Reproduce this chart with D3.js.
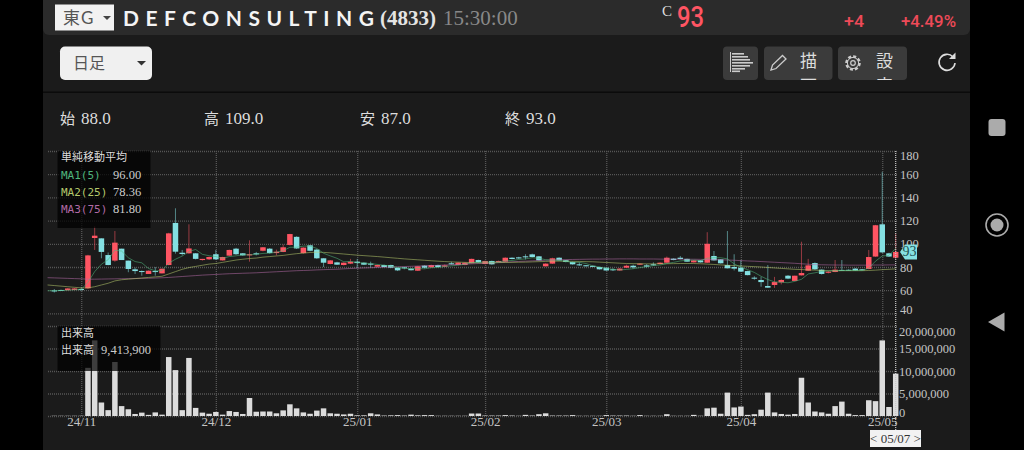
<!DOCTYPE html>
<html>
<head>
<meta charset="utf-8">
<script src="https://cdn.jsdelivr.net/npm/d3@7"></script>
<style>
  html, body { margin: 0; padding: 0; background: #000; overflow: hidden; }
  svg { display: block; }
  text { font-family: "Liberation Serif", serif; }
  .cjk { font-family: "Noto Sans CJK JP", sans-serif; }
  .grid line { stroke: #565656; stroke-width: 1.3; stroke-dasharray: 1 1; }
  .grid path { display: none; }
</style>
</head>
<body>
<script>
//Values, one entry per trading day

const opens = [
  59.8,60.2,60,60.2,61,61.6,105,104.7,90.3,85.5,
  95.8,85.5,78,76.5,74,76.5,74.5,81.7,118,92.3,
  91.8,91.8,86,86.6,91,85.7,89.8,95.8,91.8,90,
  91.8,94,95.8,92,93,99,106,92,98.7,95,
  87.5,82.6,84,81.7,82.9,84.6,83.7,82.9,80.3,81.7,
  81.7,79.4,79.7,78.6,76.8,81.2,79.7,81.7,80.3,83.2,
  81.7,81.7,83.2,86,82.6,85.2,84.3,84.6,88,88.3,
  89.2,90.9,89.2,80.6,82.9,88,85.8,84.3,82.3,81.5,
  81,80,79.4,78,77,79.4,81.1,82,81.4,82.3,
  82.6,83.7,87.2,88,87,84,85.7,83.7,89.5,86.6,
  81.7,80,79.4,76.5,70.8,68.8,63.6,64.5,66.8,72.5,
  68,72.8,76.8,83.4,77.7,75,75.7,77.5,77.6,78.6,
  78,78.3,89,116.8,91.8,88
];
const highs = [
  61,60.5,61.8,61.8,62.5,90.5,115,104.7,92.5,111,
  95.8,85.5,79.5,77,77,80,78.8,109.5,130.6,94.7,
  116.8,92,87,89,94.7,88.8,95,96.5,92,103,
  93,97.2,96.3,95,99.5,108.6,106.5,97,99,95.5,
  87.5,86,84.5,84,87,87,84,84.6,82,82,
  82,79.6,80,79,81,81.5,82,82,82.2,84.5,
  84,84,87.2,86.3,85.5,85.5,85.5,88.3,88.3,88.8,
  91,91.5,89.5,83.2,88,88.3,86,84.7,84,81.7,
  81.2,80.2,79.6,79,79,82,82,83.2,82.5,84,
  84,89,87.5,89.5,87.2,86,86,110,93.8,86.8,
  111,91,86,76.8,72,71.5,81.7,71.5,69.5,73,
  72.5,101.8,87,84,78,76.5,86,86,78,79,
  78.2,94.7,116.3,162,92.3,109
];
const lows = [
  58,59.5,60,60,59.5,61.3,94.7,87.5,81.5,84.5,
  86,75.5,74,72.5,74,72.5,74.5,81.5,91.5,90,
  91.5,86.5,85.5,86,86.2,85.5,89.5,90.5,89.7,84.6,
  90,93.5,91.5,90,92.8,98.5,95.5,91.5,93.5,87,
  80,82.3,81.7,81.3,82.5,79,81.7,79.4,80,79.8,
  79,76.5,78,77,76.5,78.8,79.5,79.7,80,82,
  81.5,81.5,83,83.7,82.3,82,84,84.3,86.6,87,
  86.5,88.3,85.5,80.3,82.7,85.5,84,82,81,80.5,
  80,77.8,76.8,76.5,76.8,79.2,78.5,81.8,79.5,81,
  82.3,83.5,85.8,86.5,84.5,83.8,83.8,83.5,85.5,83,
  78.7,77,75.8,72.8,69,63,62,62,65,69.5,
  67.8,72.6,76.5,77.5,73.5,74.5,75.5,76.5,76.8,76.5,
  77,78,88.8,92,88.7,87
];
const closes = [
  59.3,59.8,61.5,61.5,60.5,90,107,93,81.7,101,
  86,78.3,76.5,76,76.8,76,78.5,109,93.2,91.2,
  96,87,87,88.6,86.6,88.6,94.7,91,90,91,
  90.9,97,92,93.2,97,108.4,96,96.7,94,87.5,
  83.7,85.7,82,83.7,84.6,83.4,82,82,81.7,80,
  79.4,77.1,79.2,77.2,80.6,79.4,81.7,80,81.4,82.3,
  83.8,83.7,87,84,85.2,82.3,85.2,88,86.9,87.4,
  88.4,88.6,85.7,82.9,87.5,85.7,84.3,82.3,81.5,80.6,
  80.1,78,77,77.4,78.6,81.1,79.7,82.9,80.3,81.7,
  83.7,88,86,86.9,84.6,85.7,84,100,85.7,83.2,
  78.9,78.6,76,73,70.2,67,62.2,67,68.8,70,
  72.5,74.8,81.4,78,74,76,77.7,76.8,77,76.8,
  77.4,88.6,116,92.6,89,93
];
// millions of shares
const volumes = [
  0.05,0.05,0.05,0.05,0.05,10.7,16.8,3,1.3,12,
  2.2,1.5,0.45,0.75,0.25,0.8,0.3,13.1,10.2,1.3,
  12.9,1.8,0.75,0.5,0.9,0.3,1.1,0.9,0.45,4,
  0.95,1,1,0.6,1.25,2.6,1.7,0.8,0.5,1.2,
  1.7,0.6,0.5,0.35,0.5,0.15,0.15,0.6,0.35,0.1,
  0.15,0.2,0.1,0.3,0.15,0.2,0.2,0.05,0.05,0.05,
  0.05,0.05,0.55,0.55,0.1,0.1,0.1,0.2,0.1,0.05,
  0.25,0.1,0.4,0.6,0.1,0.1,0.1,0.2,0.05,0.05,
  0.05,0.05,0.2,0.1,0.1,0.1,0.05,0.2,0.05,0.05,
  0.05,0.4,0.05,0.05,0.05,0.25,0.05,1.7,1.85,0.5,
  5.2,1.9,2.1,0.25,0.4,1.4,5.2,0.8,0.45,0.3,
  0.45,8.5,3,1,0.8,0.5,2.2,3.2,0.5,0.2,
  0.2,3.5,3.3,16.8,2,9.41
];

//The moving averages start one day before the first candle, at the left edge of the chart

const ma1 = [
  59.5,59.6,59.7,60,60.4,60.5,66.8,76,82.4,86.3,
  94.5,93.7,88,84.7,83.6,78.7,76.7,76.8,83.3,86.7,
  89.4,93.4,95.1,90.9,89.7,89,87.4,89,89.6,90.6,
  90.5,91,91.7,92,92.7,94,97,97,98,98,
  96,91.8,89.6,87.5,84.5,84.8,83.8,83.4,82.9,82.2,
  81.5,80.8,79.5,79,78.4,78.6,78.4,79.4,79.6,80.5,
  81,81.6,82.3,83.7,84,84.5,84.2,84.4,85.3,85.6,
  86.5,87,88,87.5,86.3,86,85.7,84.8,84,84,
  83,81,80,78.8,78,77.5,77.9,78.5,79.5,80.3,
  81.2,81.7,83,84,85.2,85.8,85.9,85.5,87.6,88,
  88,87,82.7,79.9,77.7,75.3,72,69.2,67.2,66.9,
  66.4,67.6,69.4,74,75,76.2,76.7,76.7,77,77,
  77,77,79,85,89.5,90,96
];
const ma2 = [
  64.5,64,63.5,63,62.5,62,62,63,64.5,66,
  68,69,69.5,70,70.5,71,71.5,72,74,76,
  78,79.5,80.5,81.5,82.5,83,84,85,86,86.7,
  87.3,87.7,88.5,89,89.5,90,90.8,91.5,92,92.5,
  92.8,92.6,92.2,91.7,91.2,90.7,90.2,89.8,89.4,89,
  88.5,88,87.5,87,86.6,86.2,85.8,85.4,85,84.7,
  84.4,84.2,84,83.8,83.6,83.5,83.6,83.8,83.9,84,
  84.1,84.2,84.4,84.6,84.8,85,85,85,84.9,84.8,
  84.6,84.5,84.2,83.9,83.6,83.3,83,82.9,82.8,82.7,
  82.7,82.7,82.8,82.9,83,83,83,82.8,82.5,82.2,
  81.8,81.5,81.2,80.9,80.6,80.3,80,79.6,79.2,78.8,
  78.4,78,77.8,77.5,77.3,77,76.8,76.8,76.8,76.8,
  76.8,76.8,77,77.3,77.7,78,78.36
];
const ma3 = [
  70.8,70.6,70.4,70.2,70,69.8,69.5,69.5,69.6,69.7,
  69.8,69.9,70,70.1,70.2,70.3,70.5,70.7,71,71.4,
  71.8,72.2,72.6,73,73.3,73.6,73.9,74.2,74.4,74.6,
  74.8,75,75.3,75.6,75.9,76.2,76.5,76.8,77,77.2,
  77.5,77.7,77.9,78.1,78.4,78.7,79,79.2,79.4,79.6,
  79.8,80,80.2,80.4,80.6,80.8,81,81.2,81.4,81.7,
  82,82.2,82.5,82.7,83,83.2,83.5,83.8,84.2,84.5,
  84.8,85,85.3,85.5,85.8,86,86.3,86.4,86.5,86.6,
  86.7,86.8,86.8,86.9,86.9,87,87,87,86.9,86.9,
  86.9,86.8,86.8,86.8,86.7,86.7,86.7,86.6,86.5,86.3,
  86.2,86,85.8,85.5,85.2,85,84.7,84.4,84.1,83.8,
  83.5,83.2,82.8,82.4,82,81.9,81.8,81.7,81.7,81.6,
  81.6,81.6,81.6,81.7,81.7,81.8,81.8
];

//Axis ticks

const priceTicks = [180,160,140,120,100,80,60,40];
const volumeTicks = [20,15,10,5,0];
const monthPositions = [4,24,45,64,82,102,123];
const monthLabels = ["24/11","24/12","25/01","25/02","25/03","25/04","25/05"];

//Texts

const ohlcLabels = ["始","高","安","終"];
const ohlcValues = ["88.0","109.0","87.0","93.0"];
const maNames = ["MA1(5)","MA2(25)","MA3(75)"];
const maLast = ["96.00","78.36","81.80"];
const maColors = ["#4fb67c","#b4c86c","#b26aa6"];

const upColor = "#ff5563";
const downColor = "#84e0e2";

const svg = d3.select("body").append("svg").attr("width", 1024).attr("height", 450);

//Scales

const x = d3.scaleLinear().domain([0, 125]).range([54.3, 895.7]);
const yPrice = d3.scaleLinear().domain([40, 180]).range([313.4, 151]);
const yVol = d3.scaleLinear().domain([0, 20]).range([416, 326]);
const bodyWidth = 5.5;
const plotLeft = 48;
const plotRight = 897;

//Page background, header and toolbar

svg.append("rect").attr("x", 43).attr("y", 0).attr("width", 927).attr("height", 450).attr("fill", "#1b1b1b");
svg.append("rect").attr("x", 43).attr("y", -10).attr("width", 927).attr("height", 45).attr("rx", 6).attr("fill", "#2b2b2b");
svg.append("rect").attr("x", 43).attr("y", 91.5).attr("width", 927).attr("height", 1.5).attr("fill", "#0b0b0b");

const header = svg.append("g");
header.append("rect").attr("x", 55).attr("y", 4.5).attr("width", 59).attr("height", 26).attr("fill", "#f2f2f2");
header.append("text").attr("class", "cjk").attr("x", 63).attr("y", 24).attr("font-size", 17).attr("fill", "#555").text("東");
header.append("text").attr("x", 81).attr("y", 24).attr("font-size", 17).attr("fill", "#555").style("font-family", "Lato").text("G");
header.append("path").attr("d", "M103,16h8l-4,4z").attr("fill", "#444");
header.append("text").attr("x", 123).attr("y", 25.5).attr("font-size", 21).attr("font-weight", 700).attr("fill", "#f4f4f4")
  .style("font-family", "Lato").attr("letter-spacing", "6.5px").text("DEFCONSULTING");
header.append("text").attr("x", 380).attr("y", 25).attr("font-size", 21).attr("font-weight", 700).attr("fill", "#e4e4e4").text("(4833)");
header.append("text").attr("x", 443).attr("y", 25).attr("font-size", 21).attr("fill", "#888").text("15:30:00");
header.append("text").attr("x", 662).attr("y", 16).attr("font-size", 15).attr("fill", "#ddd").text("C");
header.append("text").attr("x", 677).attr("y", 26.5).attr("font-size", 30).attr("font-weight", 500).attr("fill", upColor)
  .attr("textLength", 27).attr("lengthAdjust", "spacingAndGlyphs").style("font-family", "Roboto").text("93");
header.append("text").attr("x", 844).attr("y", 26.5).attr("font-size", 17).attr("font-weight", 500).attr("fill", "#ee4a58")
  .attr("textLength", 20).attr("lengthAdjust", "spacingAndGlyphs").style("font-family", "Roboto").text("+4");
header.append("text").attr("x", 901).attr("y", 26.5).attr("font-size", 17).attr("font-weight", 500).attr("fill", "#ee4a58")
  .attr("textLength", 55).attr("lengthAdjust", "spacingAndGlyphs").style("font-family", "Roboto").text("+4.49%");

//Toolbar buttons. The second line of the two labels is cut off by the button, as in the app

const toolbar = svg.append("g");
toolbar.append("rect").attr("x", 60).attr("y", 46.5).attr("width", 92).attr("height", 33.5).attr("rx", 5).attr("fill", "#f0f0f0");
toolbar.append("text").attr("class", "cjk").attr("x", 73).attr("y", 69).attr("font-size", 16).attr("fill", "#555").text("日足");
toolbar.append("path").attr("d", "M137,61h9l-4.5,4.5z").attr("fill", "#333");

const buttons = [[723,35],[764,68.5],[838,69]];
toolbar.selectAll("rect.btn").data(buttons).enter().append("rect").attr("class", "btn")
  .attr("x", d => d[0]).attr("y", 46.5).attr("width", d => d[1]).attr("height", 33.5).attr("rx", 4).attr("fill", "#3b3b3b");

svg.append("clipPath").attr("id", "btnClip").append("rect").attr("x", 723).attr("y", 46.5).attr("width", 184).attr("height", 33.5);
const btnText = toolbar.append("g").attr("clip-path", "url(#btnClip)");
[["描","画",808.5],["設","定",884.5]].forEach(function(b){
  btnText.append("text").attr("class", "cjk").attr("x", b[2]).attr("y", 66.5).attr("font-size", 17).attr("fill", "#ddd").attr("text-anchor", "middle").text(b[0]);
  btnText.append("text").attr("class", "cjk").attr("x", b[2]).attr("y", 92).attr("font-size", 17).attr("fill", "#ddd").attr("text-anchor", "middle").text(b[1]);
});

//Toolbar icons

toolbar.append("path").attr("d", "M730.5,52v20").attr("stroke", "#ccc").attr("stroke-width", 1);
[[54,12],[57,16],[60,18],[63,21],[66,18],[69,13],[71.5,8]].forEach(function(b){
  toolbar.append("rect").attr("x", 732).attr("y", b[0] - 1).attr("width", b[1]).attr("height", 1.6).attr("fill", "#ccc");
});
toolbar.append("path").attr("d", "M771,70l1.5,-5l10,-9.5l3.5,3.5l-10,9.5z").attr("fill", "none").attr("stroke", "#ccc").attr("stroke-width", 1.3);
toolbar.append("circle").attr("cx", 853).attr("cy", 63).attr("r", 6.5).attr("fill", "none").attr("stroke", "#ccc").attr("stroke-width", 2.6).attr("stroke-dasharray", "3 2");
toolbar.append("circle").attr("cx", 853).attr("cy", 63).attr("r", 5.6).attr("fill", "none").attr("stroke", "#ccc").attr("stroke-width", 1);
toolbar.append("circle").attr("cx", 853).attr("cy", 63).attr("r", 2.3).attr("fill", "none").attr("stroke", "#ccc").attr("stroke-width", 1.2);
toolbar.append("path").attr("d", "M953,57a8,8 0 1,0 2,6").attr("fill", "none").attr("stroke", "#ddd").attr("stroke-width", 1.6);
toolbar.append("path").attr("d", "M955.5,52.5v6.5h-6.5z").attr("fill", "#ddd");

//Open, high, low and close line

const ohlcX = [60,204,360,505];
ohlcLabels.forEach(function(label, i){
  svg.append("text").attr("class", "cjk").attr("x", ohlcX[i]).attr("y", 124).attr("font-size", 15).attr("fill", "#ddd").text(label);
  svg.append("text").attr("x", ohlcX[i] + 21).attr("y", 123.5).attr("font-size", 17).attr("fill", "#ddd").text(ohlcValues[i]);
});

//Grid, built from the axes with a negative tick size. The month lines run through both panes

svg.append("g").attr("class", "grid").attr("transform", "translate(" + plotRight + ",0)")
  .call(d3.axisRight(yPrice).tickValues(priceTicks).tickSize(plotLeft - plotRight).tickFormat(""));
svg.append("g").attr("class", "grid").attr("transform", "translate(" + plotRight + ",0)")
  .call(d3.axisRight(yVol).tickValues(volumeTicks).tickSize(plotLeft - plotRight).tickFormat(""));
svg.append("g").attr("class", "grid").attr("transform", "translate(0,416)")
  .call(d3.axisBottom(x).tickValues(monthPositions).tickSize(-265).tickFormat(""));

//Volume bars

svg.append("g").selectAll("rect")
  .data(volumes)
  .enter()
  .append("rect")
  .attr("x", (d, i) => x(i) - bodyWidth / 2)
  .attr("y", d => yVol(d))
  .attr("width", bodyWidth)
  .attr("height", d => yVol(0) - yVol(d))
  .attr("fill", "#dcdcdc");

//Candles

const candle = svg.append("g").selectAll("g")
  .data(opens)
  .enter()
  .append("g")
  .attr("fill", (d, i) => closes[i] >= d ? upColor : downColor)
  .attr("stroke", (d, i) => closes[i] >= d ? upColor : downColor);

candle.append("line")
  .attr("x1", (d, i) => x(i))
  .attr("x2", (d, i) => x(i))
  .attr("y1", (d, i) => yPrice(highs[i]))
  .attr("y2", (d, i) => yPrice(lows[i]))
  .attr("stroke-width", 1)
  .attr("stroke-opacity", 0.55);

candle.append("rect")
  .attr("x", (d, i) => x(i) - bodyWidth / 2)
  .attr("y", (d, i) => yPrice(Math.max(d, closes[i])))
  .attr("width", bodyWidth)
  .attr("height", (d, i) => Math.max(1, Math.abs(yPrice(d) - yPrice(closes[i]))))
  .attr("stroke", "none");

//Moving averages

const maLine = d3.line().x((d, i) => x(i - 1)).y(d => yPrice(d));
[ma3, ma2, ma1].forEach(function(series, i){
  svg.append("path")
    .attr("d", maLine(series))
    .attr("fill", "none")
    .attr("stroke", maColors[2 - i])
    .attr("stroke-width", 1)
    .attr("stroke-opacity", 0.55);
});

//Crosshair on the selected day

svg.append("line").attr("x1", x(125)).attr("x2", x(125)).attr("y1", 151).attr("y2", 430)
  .attr("stroke", "#c8c8c8").attr("stroke-dasharray", "1 1").attr("stroke-width", 1.2);

//Price axis. The top and bottom labels are kept inside their pane

const priceAxis = svg.append("g").attr("transform", "translate(900,0)")
  .call(d3.axisRight(yPrice).tickValues(priceTicks).tickSize(0).tickPadding(0));
const volumeAxis = svg.append("g").attr("transform", "translate(899,0)")
  .call(d3.axisRight(yVol).tickValues(volumeTicks).tickSize(0).tickPadding(0).tickFormat(d => d3.format(",")(d * 1000000)));

[priceAxis, volumeAxis].forEach(function(axis){
  axis.select(".domain").remove();
  axis.selectAll("text").style("font-family", "Liberation Serif").attr("font-size", 12.5).attr("fill", "#c4c4c4");
});
priceAxis.selectAll("text").attr("dy", d => d === 180 ? "0.71em" : d === 40 ? "0" : "0.32em");
volumeAxis.selectAll("text").attr("dy", d => d === 20 ? "0.74em" : d === 0 ? "0" : "0.32em");

//Date axis

const dateAxis = svg.append("g").attr("transform", "translate(0,417)")
  .call(d3.axisBottom(x).tickValues(monthPositions).tickSize(0).tickPadding(0)
    .tickFormat((d, i) => monthLabels[i]));
dateAxis.select(".domain").remove();
dateAxis.selectAll("text").style("font-family", "Liberation Serif").attr("font-size", 13).attr("fill", "#c4c4c4");

//Current price marker

svg.append("path").attr("d", "M900," + yPrice(93) + "l5,-7.5h12v15h-12z").attr("fill", downColor);
svg.append("text").attr("x", 909.5).attr("y", yPrice(93) + 4.5).attr("font-size", 14).attr("text-anchor", "middle").attr("fill", "#1d5052").text("93");

//Selected date box

svg.append("rect").attr("x", 870).attr("y", 430).attr("width", 51).attr("height", 17).attr("fill", "#f2f2f2");
svg.append("text").attr("x", 895.5).attr("y", 443).attr("font-size", 13).attr("text-anchor", "middle").attr("fill", "#333").text("< 05/07 >");

//Legends

svg.append("rect").attr("x", 57.5).attr("y", 151).attr("width", 93).attr("height", 77).attr("fill", "#000").attr("fill-opacity", 0.72);
svg.append("text").attr("class", "cjk").attr("x", 61).attr("y", 161).attr("font-size", 11).attr("fill", "#ddd").text("単純移動平均");
maNames.forEach(function(name, i){
  svg.append("text").attr("x", 61).attr("y", 179 + i * 17).attr("font-size", 11).attr("fill", maColors[i])
    .style("font-family", "DejaVu Sans Mono").text(name);
  svg.append("text").attr("x", 113).attr("y", 179 + i * 17).attr("font-size", 12.5).attr("fill", "#ccc").text(maLast[i]);
});

svg.append("rect").attr("x", 57.5).attr("y", 326).attr("width", 103).attr("height", 45).attr("fill", "#000").attr("fill-opacity", 0.72);
svg.append("text").attr("class", "cjk").attr("x", 61).attr("y", 337).attr("font-size", 11).attr("fill", "#ddd").text("出来高");
svg.append("text").attr("class", "cjk").attr("x", 61).attr("y", 354).attr("font-size", 11).attr("fill", "#ddd").text("出来高");
svg.append("text").attr("x", 101).attr("y", 354).attr("font-size", 12.5).attr("fill", "#ccc").text("9,413,900");

//Phone navigation buttons

svg.append("rect").attr("x", 988.5).attr("y", 119).attr("width", 17).attr("height", 17).attr("rx", 3).attr("fill", "#ababab");
svg.append("circle").attr("cx", 997).attr("cy", 225).attr("r", 11).attr("fill", "none").attr("stroke", "#ababab").attr("stroke-width", 1.6);
svg.append("circle").attr("cx", 997).attr("cy", 225).attr("r", 6.5).attr("fill", "#ababab");
svg.append("path").attr("d", "M1004.5,312.5v19l-16.5,-9.5z").attr("fill", "#ababab");
</script>
</body>
</html>
